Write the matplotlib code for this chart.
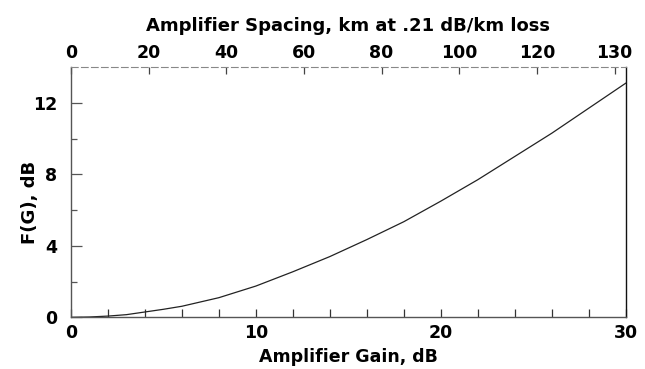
import matplotlib.pyplot as plt

# values
gain_db = [0, 1, 2, 3, 4, 5, 6, 8, 10, 12, 14, 16, 18, 20, 22, 24, 26, 28, 30]
f_db = [0, 0.02, 0.07, 0.15, 0.3, 0.45, 0.62, 1.1, 1.75, 2.55, 3.4, 4.35, 5.35,
        6.5, 7.7, 9.0, 10.3, 11.7, 13.1]

bottom_ticks = list(range(0, 31, 2))
bottom_labels = [str(t) if t % 10 == 0 else "" for t in bottom_ticks]
y_major = [0, 4, 8, 12]
y_minor = [2, 6, 10]
top_ticks_km = [0, 20, 40, 60, 80, 100, 120, 140]
top_labels = ["0", "20", "40", "60", "80", "100", "120", "130"]
loss_per_km = 0.21

plt.rcParams['font.family'] = ['DejaVu Sans']
plt.rcParams['font.weight'] = 'bold'


def main():
    fig = plt.figure(figsize=(6.45, 3.69), dpi=100)
    ax = fig.add_axes([0.110, 0.140, 0.860, 0.678])

    ax.plot(gain_db, f_db, color='#222222', lw=0.9)
    ax.set_xlim(0, 30)
    ax.set_ylim(0, 14)

    ax.set_xticks(bottom_ticks, bottom_labels)
    ax.set_yticks(y_major, [str(t) for t in y_major])
    ax.set_yticks(y_minor, minor=True)
    ax.tick_params(axis='x', direction='in', length=6, width=0.9, pad=5,
                   labelsize=12.5, color='#333333')
    ax.tick_params(axis='y', which='major', direction='in', length=8, width=0.9,
                   pad=10, labelsize=12.5, color='#555555')
    ax.tick_params(axis='y', which='minor', direction='in', length=4, width=0.9,
                   color='#555555')
    for lab in ax.get_xticklabels() + ax.get_yticklabels():
        lab.set_fontweight('bold')

    for side in ['left', 'bottom']:
        ax.spines[side].set_color('#555555')
        ax.spines[side].set_linewidth(1.0)
    ax.spines['right'].set_color('#111111')
    ax.spines['right'].set_linewidth(1.0)
    ax.spines['top'].set_color('#888888')
    ax.spines['top'].set_linestyle((0, (6, 3)))
    ax.spines['top'].set_linewidth(0.8)

    ax.set_xlabel("Amplifier Gain, dB", fontsize=12.5, fontweight='bold', labelpad=4)
    ax.set_ylabel("F(G), dB", fontsize=13, fontweight='bold')
    ax.yaxis.set_label_coords(-0.058, 0.46)

    top = ax.secondary_xaxis('top', functions=(lambda g: g / loss_per_km,
                                               lambda k: k * loss_per_km))
    top.set_xticks(top_ticks_km, top_labels)
    top.tick_params(direction='in', length=5, width=0.9, pad=4, labelsize=12.5,
                    color='#444444')
    for lab in top.get_xticklabels():
        lab.set_fontweight('bold')
    top.spines['top'].set_visible(False)
    top.set_xlabel("Amplifier Spacing, km at .21 dB/km loss", fontsize=13,
                   fontweight='bold', labelpad=9)

    fig.savefig("out.png", dpi=100)


if __name__ == "__main__":
    main()
